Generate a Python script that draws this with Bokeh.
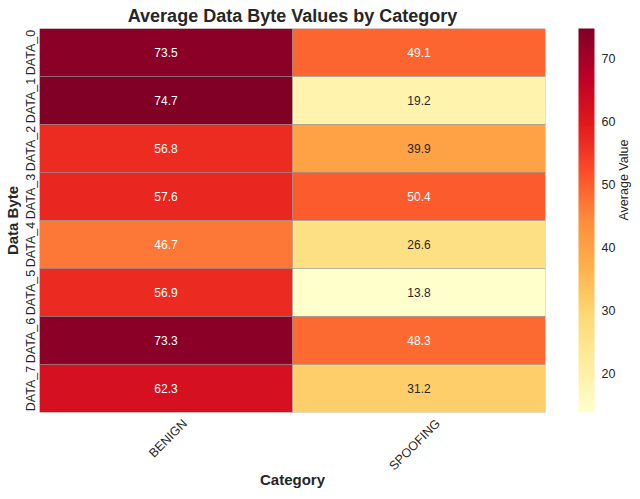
import numpy as np
from bokeh.plotting import figure
from bokeh.models import (ColumnDataSource, LinearColorMapper, ColorBar, FixedTicker, Title,
                          Range1d, FactorRange, CategoricalAxis)
from bokeh.embed import file_html
from bokeh.resources import INLINE
from bokeh.core.properties import value

categories = ["BENIGN", "SPOOFING"]
data_bytes = ["DATA_0", "DATA_1", "DATA_2", "DATA_3", "DATA_4", "DATA_5", "DATA_6", "DATA_7"]
benign = [73.5, 74.7, 56.8, 57.6, 46.7, 56.9, 73.3, 62.3]
spoofing = [49.1, 19.2, 39.9, 50.4, 26.6, 13.8, 48.3, 31.2]
cbar_ticks = [20, 30, 40, 50, 60, 70]
cbar_title = "Average Value"

FONT = "Liberation Sans"
DARK = "#262626"
FRAME_W, FRAME_H = 506, 384
XLAB_SHIFT = 0.075   # rotated category labels centred under their column (in column units)

# YlOrRd colormap (ColorBrewer 9-class) interpolated to 256 steps
base = ["#ffffcc", "#ffeda0", "#fed976", "#feb24c", "#fd8d3c",
        "#fc4e2a", "#e31a1c", "#bd0026", "#800026"]
base_rgb = np.array([[int(c[i:i + 2], 16) for i in (1, 3, 5)] for c in base], float)
xs = np.linspace(0, 1, len(base))
t = np.linspace(0, 1, 256)
pal_rgb = np.stack([np.interp(t, xs, base_rgb[:, k]) for k in range(3)], axis=1)
palette = ["#%02x%02x%02x" % tuple(int(round(v)) for v in row) for row in pal_rgb]

all_vals = benign + spoofing
vmin, vmax = min(all_vals), max(all_vals)
mapper = LinearColorMapper(palette=palette, low=vmin, high=vmax)


def lum(rgb):
    c = np.array(rgb) / 255.0
    c = np.where(c <= 0.03928, c / 12.92, ((c + 0.055) / 1.055) ** 2.4)
    return 0.2126 * c[0] + 0.7152 * c[1] + 0.0722 * c[2]


xpos, bytes_, vals, labels, tcolors = [], [], [], [], []
for ci, series in enumerate([benign, spoofing]):
    for b, v in zip(data_bytes, series):
        idx = int(np.clip(round((v - vmin) / (vmax - vmin) * 255), 0, 255))
        xpos.append(ci + 0.5)
        bytes_.append(b)
        vals.append(v)
        labels.append(f"{v:.1f}")
        tcolors.append(DARK if lum(pal_rgb[idx]) > 0.408 else "#ffffff")

src = ColumnDataSource(dict(x=xpos, byte=bytes_, val=vals, label=labels, tcolor=tcolors))

p = figure(frame_width=FRAME_W, frame_height=FRAME_H,
           x_range=Range1d(0, len(categories)),
           y_range=list(reversed(data_bytes)),
           output_backend="svg", toolbar_location=None,
           title="Average Data Byte Values by Category",
           min_border_left=0, min_border_right=0, min_border_top=0, min_border_bottom=0)

p.title.align = "center"
p.title.text_font = FONT
p.title.text_font_size = "18px"
p.title.text_font_style = "bold"
p.title.text_color = DARK
p.title.standoff = 6

p.rect(x="x", y="byte", width=1, height=1, source=src,
       fill_color={"field": "val", "transform": mapper},
       line_color="#8c8c8c", line_width=0.5)
p.text(x="x", y="byte", text="label", source=src, text_align="center",
       text_baseline="middle", text_color="tcolor", text_font=value(FONT),
       text_font_size="12px")

xticks = [i + 0.5 + XLAB_SHIFT for i in range(len(categories))]
p.xaxis.ticker = FixedTicker(ticks=xticks)
p.xaxis.major_label_overrides = {tk: c for tk, c in zip(xticks, categories)}

for ax in (p.xaxis[0], p.yaxis[0]):
    ax.axis_line_color = None
    ax.major_tick_line_color = None
    ax.minor_tick_line_color = None
    ax.major_tick_out = 0
    ax.major_tick_in = 0
    ax.major_label_text_font = FONT
    ax.major_label_text_font_size = "12.5px"
    ax.major_label_text_color = DARK
    ax.axis_label_text_font = FONT
    ax.axis_label_text_font_size = "15px"
    ax.axis_label_text_font_style = "bold"
    ax.axis_label_text_color = DARK
    ax.major_label_standoff = 2
    ax.axis_label_standoff = 0

p.xaxis.axis_label = "Category"
p.yaxis.axis_label = "Data Byte"
p.xaxis.major_label_orientation = np.pi / 4
p.xaxis.major_label_standoff = 9
p.xaxis.axis_label_standoff = -10
p.yaxis.major_label_orientation = "vertical"
p.grid.visible = False
p.outline_line_color = None

# spacer between the heatmap and the colour bar
p.add_layout(Title(text=" ", text_font_size="20px", standoff=9, offset=0), "right")

cb = ColorBar(color_mapper=mapper, ticker=FixedTicker(ticks=cbar_ticks), width=16,
              padding=0, margin=0, major_tick_line_color=None, bar_line_color=None,
              label_standoff=7, major_label_text_font=FONT,
              major_label_text_font_size="12.5px", major_label_text_color=DARK,
              background_fill_color=None)
p.add_layout(cb, "right")

# colour bar title, reading bottom-to-top on the right
p.extra_y_ranges = {"cbar_title": FactorRange(factors=[cbar_title])}
cb_ax = CategoricalAxis(y_range_name="cbar_title",
                        major_label_orientation=np.pi / 2, axis_line_color=None,
                        major_tick_line_color=None, minor_tick_line_color=None,
                        major_tick_out=0, major_tick_in=0, major_label_standoff=5,
                        major_label_text_font=FONT, major_label_text_font_size="12.5px",
                        major_label_text_color=DARK)
p.add_layout(cb_ax, "right")

open("out.html", "w").write(file_html(p, INLINE))
